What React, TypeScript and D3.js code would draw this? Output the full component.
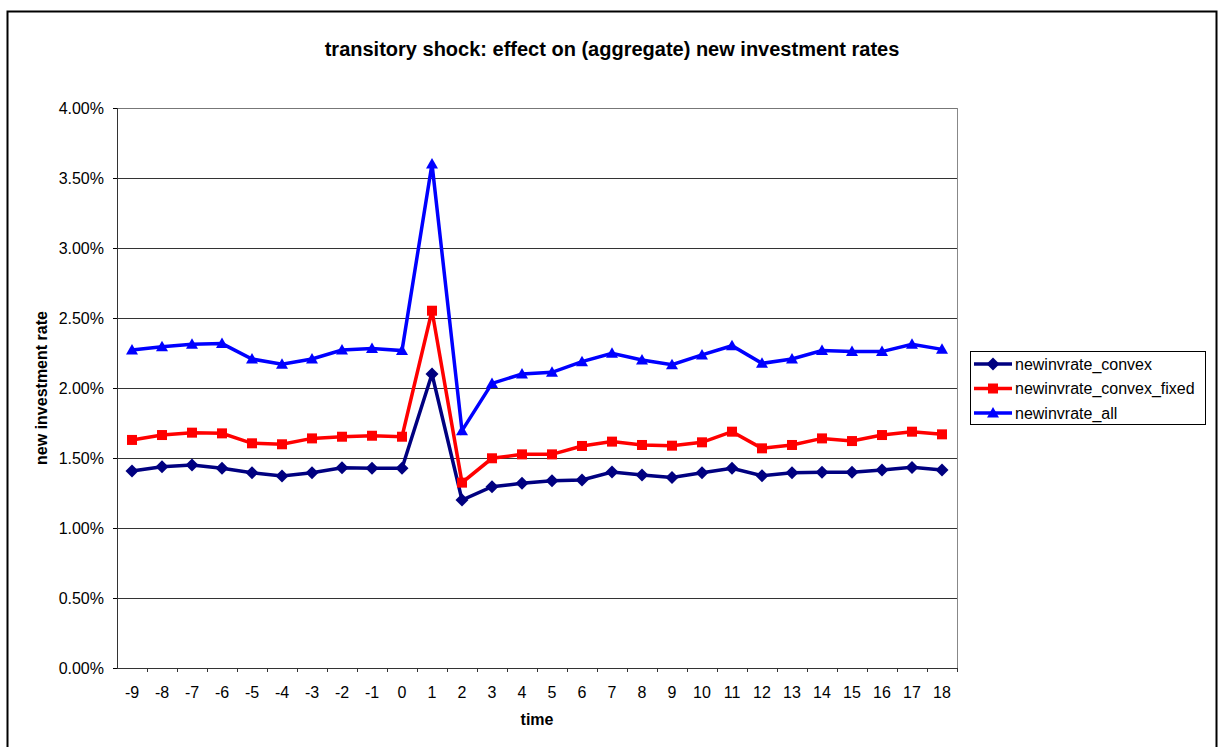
import React from "react";
import * as d3 from "d3";

const times = [-9,-8,-7,-6,-5,-4,-3,-2,-1,0,1,2,3,4,5,6,7,8,9,10,11,12,13,14,15,16,17,18];
const convex = [1.407,1.438,1.450,1.426,1.395,1.371,1.395,1.431,1.426,1.426,2.10,1.20,1.295,1.319,1.338,1.343,1.400,1.379,1.361,1.395,1.426,1.374,1.395,1.398,1.398,1.414,1.433,1.414];
const convexFixed = [1.629,1.664,1.681,1.676,1.605,1.598,1.640,1.652,1.659,1.652,2.552,1.324,1.498,1.526,1.526,1.586,1.617,1.593,1.588,1.612,1.688,1.569,1.593,1.640,1.621,1.664,1.688,1.669];
const all = [2.271,2.295,2.312,2.317,2.207,2.169,2.207,2.271,2.283,2.267,3.60,1.695,2.033,2.10,2.112,2.188,2.248,2.20,2.166,2.236,2.302,2.176,2.207,2.267,2.260,2.260,2.312,2.276];
const yTicks = [0,0.5,1,1.5,2,2.5,3,3.5,4];
const seriesNames = ["newinvrate_convex","newinvrate_convex_fixed","newinvrate_all"];
const seriesColors = ["#000080","#FF0000","#0000FF"];
const seriesShapes = ["diamond","square","triangle"];

const font = "'Liberation Sans', Arial, sans-serif";

function Marker({ shape, x, y, color }: { shape: string; x: number; y: number; color: string }) {
  if (shape === "diamond") {
    const r = 6.5;
    return <path d={`M${x},${y - r}L${x + r},${y}L${x},${y + r}L${x - r},${y}Z`} fill={color} />;
  }
  if (shape === "square") {
    const r = 5;
    return <rect x={x - r} y={y - r} width={2 * r} height={2 * r} fill={color} />;
  }
  const r = 6;
  return <path d={`M${x},${y - r}L${x + r},${y + r * 0.75}L${x - r},${y + r * 0.75}Z`} fill={color} />;
}

export default function App() {
  const W = 1226, H = 747;
  const left = 117, right = 957, top = 108, bottom = 668;
  const x = d3.scaleBand<number>().domain(times).range([left, right]);
  const y = d3.scaleLinear().domain([0, 4]).range([bottom, top]);
  const cx = (t: number) => (x(t) as number) + x.bandwidth() / 2;
  const data = [convex, convexFixed, all];
  const line = d3.line<number>().x((_, i) => cx(times[i])).y((d) => y(d));
  const fmt = (v: number) => v.toFixed(2) + "%";

  return (
    <svg width={W} height={H} style={{ position: "absolute", left: 0, top: 0 }} fontFamily={font}>
      <rect x={0} y={0} width={W} height={H} fill="#fff" />
      <rect x={7.5} y={11.5} width={1209} height={760} fill="#fff" stroke="#000" strokeWidth={2} />
      <text x={612} y={56} textAnchor="middle" fontSize={20} fontWeight="bold">
        transitory shock: effect on (aggregate) new investment rates
      </text>
      {yTicks.map((t) => (
        <g key={t}>
          <line x1={left} x2={right} y1={Math.round(y(t)) + 0.5} y2={Math.round(y(t)) + 0.5} stroke={t === 4 ? "#777" : "#333"} strokeWidth={1} />
          <line x1={left - 4} x2={left} y1={Math.round(y(t)) + 0.5} y2={Math.round(y(t)) + 0.5} stroke="#000" />
          <text x={104} y={y(t) + 5.5} textAnchor="end" fontSize={16}>{fmt(t)}</text>
        </g>
      ))}
      <line x1={right + 0.5} x2={right + 0.5} y1={top} y2={bottom} stroke="#888" />
      <line x1={left + 0.5} x2={left + 0.5} y1={top} y2={bottom + 1} stroke="#333" />
      {times.map((t) => (
        <g key={t}>
          <line x1={Math.round(x(t) as number) + 0.5 + x.bandwidth()} x2={Math.round(x(t) as number) + 0.5 + x.bandwidth()} y1={bottom} y2={bottom + 4} stroke="#333" />
          <text x={cx(t)} y={698} textAnchor="middle" fontSize={16}>{t}</text>
        </g>
      ))}
      <text x={537} y={725} textAnchor="middle" fontSize={16} fontWeight="bold">time</text>
      <text transform={`translate(46.5,388) rotate(-90)`} textAnchor="middle" fontSize={16} fontWeight="bold">new investment rate</text>
      {data.map((s, k) => (
        <g key={k}>
          <path d={line(s) || ""} fill="none" stroke={seriesColors[k]} strokeWidth={3.5} strokeLinejoin="miter" />
          {s.map((v, i) => (
            <Marker key={i} shape={seriesShapes[k]} x={cx(times[i])} y={y(v)} color={seriesColors[k]} />
          ))}
        </g>
      ))}
      <rect x={970.5} y={351.5} width={235} height={73} fill="#fff" stroke="#000" />
      {seriesNames.map((n, k) => {
        const ly = 364 + k * 24.5;
        return (
          <g key={n}>
            <line x1={974} x2={1012} y1={ly} y2={ly} stroke={seriesColors[k]} strokeWidth={3.5} />
            <Marker shape={seriesShapes[k]} x={993} y={ly} color={seriesColors[k]} />
            <text x={1015} y={ly + 5.5} fontSize={16}>{n}</text>
          </g>
        );
      })}
    </svg>
  );
}
